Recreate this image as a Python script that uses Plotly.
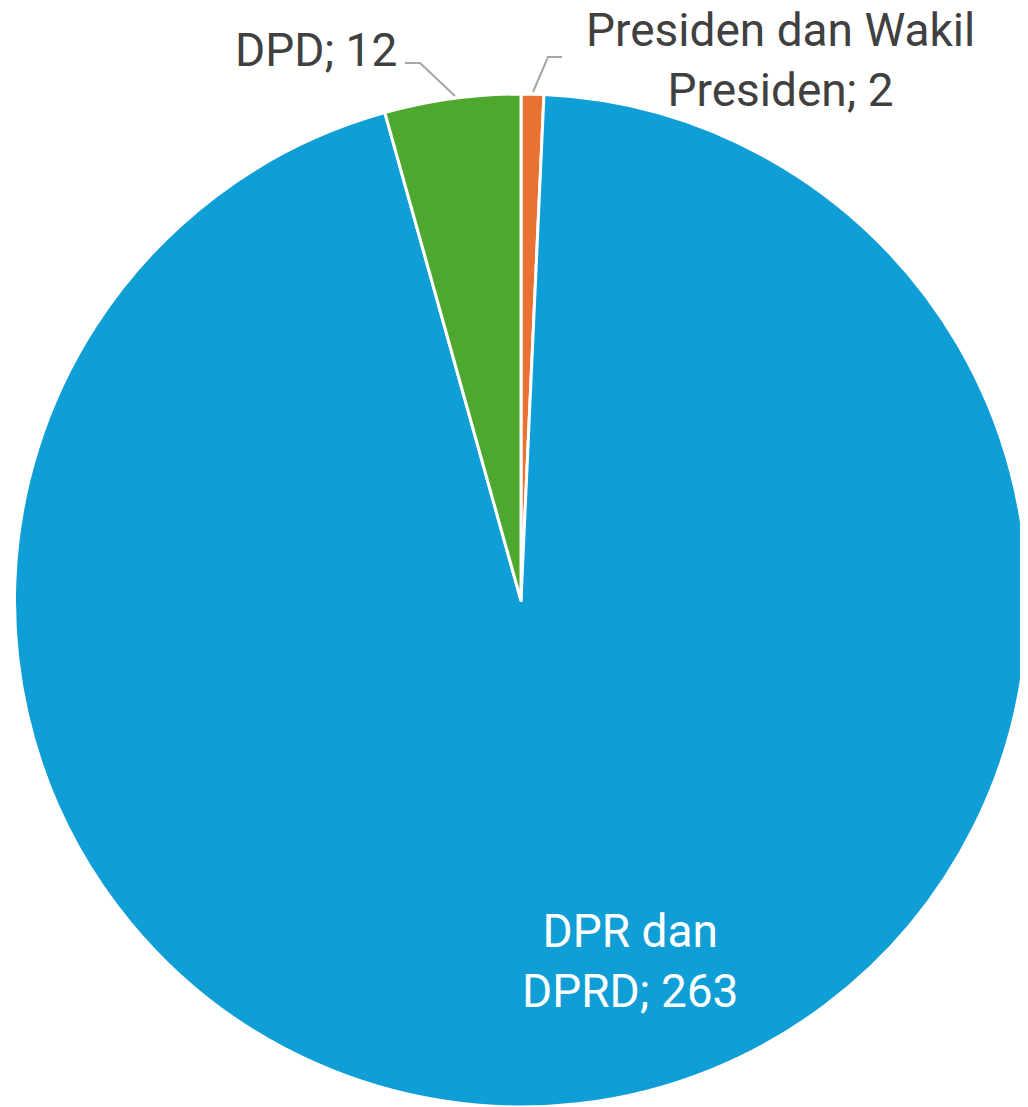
import plotly.graph_objects as go

labels = ["Presiden dan Wakil Presiden", "DPR dan DPRD", "DPD"]
values = [2, 263, 12]
colors = ["#E97132", "#0F9ED5", "#4EA72E"]
label_lines = ["Presiden dan Wakil<br>Presiden", "DPR dan<br>DPRD", "DPD"]

# page body has an 8px margin; work in page pixel coordinates and offset
OFF = 8
W, H = 1028 - OFF, 1107 - OFF
FONT = "Roboto, Arial, sans-serif"


def px(x, y):
    return (x - OFF) / W, 1 - (y - OFF) / H


fig = go.Figure(go.Pie(
    labels=labels, values=values, sort=False, direction="clockwise", rotation=0,
    marker=dict(colors=colors, line=dict(color="white", width=3)),
    textinfo="none", hoverinfo="label+value", showlegend=False,
    domain=dict(x=[(14 - OFF) / W, 1.0], y=[0.0, 1 - (94 - OFF) / H]),
))

ann = []
x, y = px(780, 60)
ann.append(dict(x=x, y=y, xref="paper", yref="paper", showarrow=False,
                xanchor="center", yanchor="middle",
                text=f"{label_lines[0]}; {values[0]}", align="center",
                font=dict(family=FONT, size=46, color="#404040")))
x, y = px(399, 50)
ann.append(dict(x=x, y=y, xref="paper", yref="paper", showarrow=False,
                xanchor="right", yanchor="middle",
                text=f"{label_lines[2]}; {values[2]}",
                font=dict(family=FONT, size=46, color="#404040")))
x, y = px(630, 961)
ann.append(dict(x=x, y=y, xref="paper", yref="paper", showarrow=False,
                xanchor="center", yanchor="middle",
                text=f"{label_lines[1]}; {values[1]}", align="center",
                font=dict(family=FONT, size=46, color="white")))


def path(points):
    pts = [px(a, b) for a, b in points]
    return "M " + " L ".join(f"{a},{b}" for a, b in pts)


shapes = [
    dict(type="path", xref="paper", yref="paper", path=path([(455, 96), (420, 63), (405, 63)]),
         line=dict(color="#A6A6A6", width=2)),
    dict(type="path", xref="paper", yref="paper", path=path([(533, 92), (548, 57), (562, 57)]),
         line=dict(color="#A6A6A6", width=2)),
]

fig.update_layout(width=W, height=H, margin=dict(l=0, r=0, t=0, b=0),
                  paper_bgcolor="white", plot_bgcolor="white",
                  annotations=ann, shapes=shapes)
fig.write_html("out.html")
